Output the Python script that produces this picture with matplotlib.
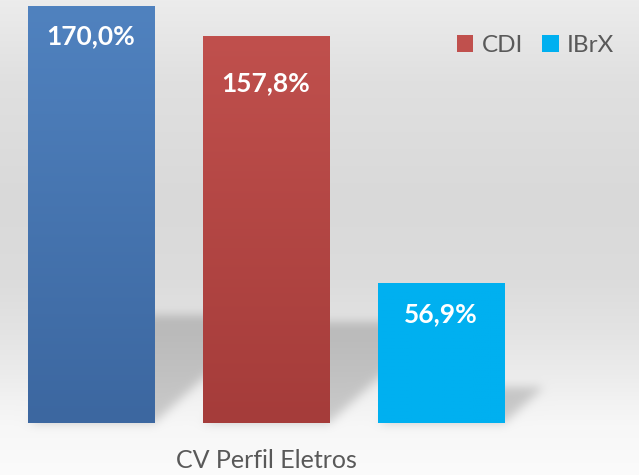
import numpy as np
import matplotlib
matplotlib.use("Agg")
import matplotlib.pyplot as plt
from matplotlib.path import Path
from matplotlib.colors import to_rgb

# data
series = ["CV Perfil Eletros", "CDI", "IBrX"]
values = [170.0, 157.8, 56.9]
value_labels = ["170,0%", "157,8%", "56,9%"]
category = "CV Perfil Eletros"

W, H = 639, 475
DPI = 100

top_colors = ["#5082bf", "#c0504d", "#00b0f0"]
bot_colors = ["#3c67a0", "#a53c3a", "#00b0f0"]
label_drop = [30, 47, 31]   # px from bar top to label centre
text_grey = "#595959"

plt.rcParams["font.family"] = ["Lato", "DejaVu Sans"]

fig = plt.figure(figsize=(W / DPI, H / DPI), dpi=DPI)
bg_ax = fig.add_axes([0, 0, 1, 1], zorder=0)
ax = fig.add_axes([0, 52 / H, 1, 423 / H], zorder=1)
ax.set_facecolor("none")

offsets = np.arange(len(series)) - 1
width = 0.72
bars = ax.bar(offsets, values, width=width, color=top_colors, zorder=2,
              label=["_" + series[0]] + series[1:])
ax.set_xlim(-1.52, 2.131)
ax.set_ylim(0, 172.4)

# gradient fill on bars
for b, c0, c1 in zip(bars, top_colors, bot_colors):
    t = np.linspace(0, 1, 100)[:, None]
    grad = (1 - t) * np.array(to_rgb(c0)) + t * np.array(to_rgb(c1))
    grad = grad[:, None, :].repeat(2, axis=1)
    x0, y0 = b.get_x(), b.get_y()
    im = ax.imshow(grad, extent=[x0, x0 + b.get_width(), y0, y0 + b.get_height()],
                   aspect="auto", zorder=3, interpolation="bilinear")
    im.set_clip_path(b)

# value labels
for b, txt, d in zip(bars, value_labels, label_drop):
    ax.annotate(txt, xy=(b.get_x() + b.get_width() / 2, b.get_height()),
                xytext=(0, -d * 72 / DPI), textcoords="offset points",
                ha="center", va="center", color="white", fontsize=19,
                fontweight="bold", zorder=4)

ax.set_xticks([0])
ax.set_xticklabels([category], fontsize=18, color=text_grey)
ax.tick_params(axis="x", length=0, pad=19)
ax.set_yticks([])
for s in ax.spines.values():
    s.set_visible(False)

leg = ax.legend(handles=list(bars)[1:], labels=series[1:], ncol=2,
                frameon=False, loc="upper right",
                bbox_to_anchor=(614 / W, 1 - 35 / H),
                bbox_transform=fig.transFigure, borderpad=0, borderaxespad=0,
                fontsize=17.5, handlelength=0.68, handleheight=0.68,
                handletextpad=0.33, columnspacing=0.8)
for t in leg.get_texts():
    t.set_color(text_grey)

# background: vertical grey gradient with soft bar shadows
stops_y = [0, 80, 200, 280, 330, 370, 400, 425, 475]
stops_v = [236, 224, 217, 220, 227, 235, 242, 247, 251]
col = np.interp(np.arange(H), stops_y, stops_v) / 255.0
bg = np.repeat(col[:, None], W, axis=1)

yy, xx = np.mgrid[0:H, 0:W]
pts = np.column_stack([xx.ravel() + 0.5, yy.ravel() + 0.5])
mask = np.zeros(H * W)
for b in bars:
    (px0, py0), (px1, py1) = ax.transData.transform(
        [(b.get_x(), 0), (b.get_x() + b.get_width(), b.get_height())])
    L, R = px0, px1
    B, T = H - py0, H - py1
    dy = 0.26 * (B - T)
    dx = 1.1 * dy
    poly = Path([(L, B), (R, B), (R + dx, B - dy), (L + dx, B - dy)])
    mask = np.maximum(mask, poly.contains_points(pts).astype(float))
mask = mask.reshape(H, W)

sig = 5
k = np.exp(-0.5 * (np.arange(-15, 16) / sig) ** 2)
k /= k.sum()
pad = np.pad(mask, 15, mode="edge")
tmp = sum(w * np.roll(pad, i - 15, axis=0) for i, w in enumerate(k))
tmp = sum(w * np.roll(tmp, i - 15, axis=1) for i, w in enumerate(k))
mask = tmp[15:-15, 15:-15]
bg = bg * (1 - 0.18 * mask)

bg_ax.imshow(np.dstack([bg] * 3), extent=[0, W, H, 0], aspect="auto",
             interpolation="bilinear")
bg_ax.set_xlim(0, W)
bg_ax.set_ylim(H, 0)
bg_ax.axis("off")

fig.savefig("out.png", dpi=DPI)
